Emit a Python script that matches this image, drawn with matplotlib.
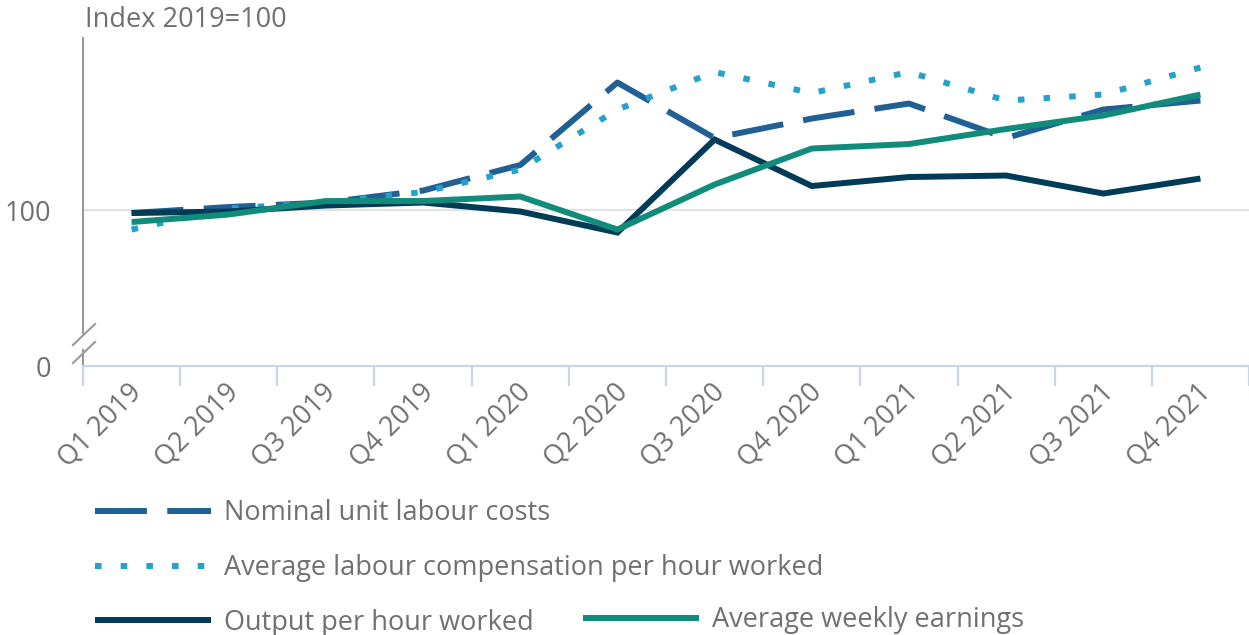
import matplotlib
matplotlib.use("Agg")
import matplotlib.pyplot as plt
from matplotlib.lines import Line2D
import matplotlib.transforms as mtransforms

plt.rcParams['font.family'] = ['Open Sans', 'DejaVu Sans']

categories = ["Q1 2019", "Q2 2019", "Q3 2019", "Q4 2019", "Q1 2020", "Q2 2020",
              "Q3 2020", "Q4 2020", "Q1 2021", "Q2 2021", "Q3 2021", "Q4 2021"]

nominal_ulc = [99.8, 100.2, 100.5, 101.3, 103.0, 108.5, 104.8, 106.1, 107.1, 104.8, 106.7, 107.3]
avg_labour_comp = [98.7, 100.1, 100.5, 101.2, 102.7, 106.7, 109.2, 107.8, 109.2, 107.3, 107.7, 109.5]
output_per_hour = [99.8, 99.9, 100.3, 100.5, 99.9, 98.5, 104.7, 101.6, 102.2, 102.3, 101.1, 102.1]
avg_weekly_earnings = [99.2, 99.7, 100.6, 100.6, 100.9, 98.7, 101.7, 104.1, 104.4, 105.4, 106.3, 107.7]

series_names = ["Nominal unit labour costs", "Average labour compensation per hour worked",
                "Output per hour worked", "Average weekly earnings"]
colors = ["#206095", "#27a0cc", "#003c57", "#118c7b"]

y_bottom, y_top = 89.6, 111.47

W, H = 1249, 635
fig = plt.figure(figsize=(W / 100, H / 100), dpi=100)
ax = fig.add_axes([83 / W, (H - 366) / H, 1166 / W, (366 - 38) / H])

text_color = "#707070"
fs = 19.5
lw = 4.3
x = list(range(len(categories)))

l1, = ax.plot(x, nominal_ulc, color=colors[0], lw=lw, ls=(0, (8.7, 3.4)),
              solid_capstyle='butt', dash_capstyle='butt', label=series_names[0], zorder=3)
l2, = ax.plot(x, avg_labour_comp, color=colors[1], lw=lw, ls=(0, (1.1, 3.2)),
              dash_capstyle='butt', label=series_names[1], zorder=4)
l3, = ax.plot(x, output_per_hour, color=colors[2], lw=lw, solid_capstyle='butt',
              solid_joinstyle='miter', label=series_names[2], zorder=5)
l4, = ax.plot(x, avg_weekly_earnings, color=colors[3], lw=lw, solid_capstyle='butt',
              solid_joinstyle='miter', label=series_names[3], zorder=6)

ax.set_xlim(-0.5, len(categories) - 0.5)
ax.set_ylim(y_bottom, y_top)

# gridline at 100
ax.axhline(100, color="#e3e3e3", lw=1.6, zorder=1)

for s in ["top", "right", "left"]:
    ax.spines[s].set_visible(False)
ax.spines["bottom"].set_color("#c8d6ea")
ax.spines["bottom"].set_linewidth(1.6)

# x ticks: boundaries as major ticks, labels at centers as minor ticks
ax.set_xticks([i - 0.5 for i in range(len(categories) + 1)])
ax.set_xticklabels([])
ax.tick_params(axis='x', which='major', length=14.5, width=1.6, color="#c8d6ea")
ax.set_xticks(x, minor=True)
ax.set_xticklabels(categories, minor=True, rotation=45, ha='right',
                   rotation_mode='anchor', va='center', fontsize=fs, color=text_color)
ax.tick_params(axis='x', which='minor', length=0, pad=16)
offset = mtransforms.ScaledTranslation(6 / 100, 0, fig.dpi_scale_trans)
for lab in ax.get_xticklabels(minor=True):
    lab.set_transform(lab.get_transform() + offset)

# y ticks
ax.set_yticks([y_bottom, 100])
ax.set_yticklabels(["0", "100"], fontsize=fs, color=text_color)
ax.tick_params(axis='y', length=0, pad=23)

# broken left axis
axis_col = "#999999"
ax.add_line(Line2D([0, 0], [(366 - 333) / 328, 1], transform=ax.transAxes,
                   color=axis_col, lw=1.5, clip_on=False))
ax.add_line(Line2D([0, 0], [0, (366 - 350) / 328], transform=ax.transAxes,
                   color=axis_col, lw=1.5, clip_on=False))
for (xa, ya, xb, yb) in [(73, 345, 95, 324), (73, 363, 95, 342)]:
    fig.add_artist(Line2D([xa / W, xb / W], [1 - ya / H, 1 - yb / H],
                          transform=fig.transFigure, color=axis_col, lw=1.5))

fig.text(85 / W, 1 - 20 / H, "Index 2019=100", fontsize=fs, color=text_color,
         ha='left', va='center')

# legends
leg_kw = dict(frameon=False, fontsize=fs, handlelength=4.3, handletextpad=0.48,
              labelcolor=text_color, borderpad=0, borderaxespad=0)
leg1 = fig.legend([l1, l2, l3], series_names[:3], loc='center left',
                  bbox_to_anchor=(95 / W, 1 - 568 / H), labelspacing=0.98, **leg_kw)
leg2 = fig.legend([l4], [series_names[3]], loc='center left',
                  bbox_to_anchor=(583 / W, 1 - 620 / H), **leg_kw)

fig.savefig("out.png", dpi=100)
